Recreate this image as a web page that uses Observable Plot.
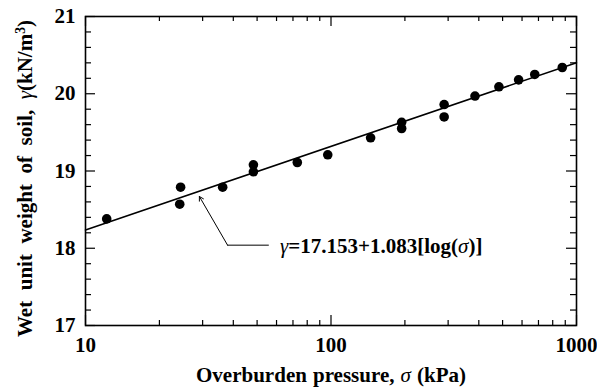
<!DOCTYPE html>
<html><head><meta charset="utf-8">
<script src="https://cdn.jsdelivr.net/npm/d3@7"></script>
<script src="https://cdn.jsdelivr.net/npm/@observablehq/plot@0.6"></script>
<style>
html,body{margin:0;padding:0;background:#fff;}
svg text{font-family:"Liberation Serif","Times New Roman",serif;font-weight:bold;fill:#000;}
</style>
</head><body><div id="chart"></div>
<script>
// data
const pressure = [12.2, 24.2, 24.4, 36.2, 48.3, 48.3, 72.9, 97, 145, 194, 194, 289, 289, 386, 483, 581, 676, 875];
const gamma    = [18.38, 18.57, 18.79, 18.79, 19.08, 18.99, 19.11, 19.21, 19.43, 19.63, 19.55, 19.86, 19.70, 19.97, 20.09, 20.18, 20.25, 20.34];
const fitX = [10, 1000];
const fitY = [18.236, 20.402];
const xMajor = [10, 100, 1000];
const xMinor = [20,30,40,50,60,70,80,90,200,300,400,500,600,700,800,900];
const yMajor = [17, 18, 19, 20, 21];
const yMinor = [17.2,17.4,17.6,17.8,18.2,18.4,18.6,18.8,19.2,19.4,19.6,19.8,20.2,20.4,20.6,20.8];
const arrowTip = {x: 29.1, y: 18.67};
const arrowElbow = {x: 37.9, y: 18.04};
const leaderEnd = {x: 55.6, y: 18.04};
const eqLabel = {x: 62, y: 18.03, text: "γ=17.153+1.083[log(σ)]"};
const xLabel = "Overburden pressure, σ (kPa)";
const yLabel = "Wet unit weight of soil, γ(kN/m³)";

const W = 597, H = 387, mL = 85, mR = 21, mT = 16, mB = 62;
const iH = H - mT - mB, iW = W - mL - mR;
const pts = pressure.map((p, i) => ({p, g: gamma[i]}));
const fit = fitX.map((x, i) => ({x, y: fitY[i]}));

const chart = Plot.plot({
  width: W, height: H,
  marginLeft: mL, marginRight: mR, marginTop: mT, marginBottom: mB,
  style: {fontFamily: "Liberation Serif", fontWeight: "bold", fontSize: "20px", background: "#fff"},
  x: {type: "log", domain: [10, 1000]},
  y: {domain: [17, 21]},
  marks: [
    Plot.frame({stroke: "#000", strokeWidth: 1.6}),
    Plot.tickX(xMajor, {x: d => d, insetTop: iH - 10, stroke: "#000", strokeWidth: 1.2}),
    Plot.tickX(xMajor, {x: d => d, insetBottom: iH - 10, stroke: "#000", strokeWidth: 1.2}),
    Plot.tickX(xMinor, {x: d => d, insetTop: iH - 5, stroke: "#000", strokeWidth: 1.2}),
    Plot.tickX(xMinor, {x: d => d, insetBottom: iH - 5, stroke: "#000", strokeWidth: 1.2}),
    Plot.tickY(yMajor, {y: d => d, insetRight: iW - 10, stroke: "#000", strokeWidth: 1.2}),
    Plot.tickY(yMajor, {y: d => d, insetLeft: iW - 10, stroke: "#000", strokeWidth: 1.2}),
    Plot.tickY(yMinor, {y: d => d, insetRight: iW - 6, stroke: "#000", strokeWidth: 1.2}),
    Plot.tickY(yMinor, {y: d => d, insetLeft: iW - 6, stroke: "#000", strokeWidth: 1.2}),
    Plot.axisX({ticks: xMajor, tickSize: 0, tickPadding: 12, tickFormat: d => String(d), fontSize: 21, label: null}),
    Plot.axisY({ticks: yMajor, tickSize: 0, tickPadding: 10, tickFormat: d => String(d), fontSize: 21, label: null}),
    Plot.line(fit, {x: "x", y: "y", stroke: "#000", strokeWidth: 1.5}),
    Plot.dot(pts, {x: "p", y: "g", r: 4.8, fill: "#000", stroke: "none"}),
    Plot.arrow([{}], {x1: () => arrowElbow.x, y1: () => arrowElbow.y, x2: () => arrowTip.x, y2: () => arrowTip.y, stroke: "#000", strokeWidth: 1, headLength: 7}),
    Plot.line([arrowElbow, leaderEnd], {x: "x", y: "y", stroke: "#000", strokeWidth: 1}),
    Plot.text([eqLabel], {x: "x", y: "y", text: "text", textAnchor: "start", lineAnchor: "middle", fontSize: 21, fontWeight: "bold"}),
    Plot.text([xLabel], {frameAnchor: "bottom", dy: 50, text: d => d, textAnchor: "middle", lineAnchor: "middle", fontSize: 21, fontWeight: "bold"}),
    Plot.text([yLabel], {frameAnchor: "left", dx: -60, dy: 7.5, rotate: -90, textAnchor: "middle", lineAnchor: "middle", text: d => d, fontSize: 21, fontWeight: "bold"})
  ]
});
document.getElementById("chart").append(chart);

// rich text: italic Greek letters and superscript 3, plus word spacing
function enrich(node, target) {
  const txt = node.textContent;
  node.textContent = "";
  let sup = false;
  for (const ch of txt) {
    const t = document.createElementNS("http://www.w3.org/2000/svg", "tspan");
    if (ch === "γ" || ch === "σ") { t.setAttribute("font-style", "italic"); t.setAttribute("font-weight", "normal"); }
    if (ch === "³") { t.textContent = "3"; t.setAttribute("font-size", "0.65em"); t.setAttribute("dy", "-0.55em"); sup = true; node.appendChild(t); continue; }
    if (sup) { t.setAttribute("dy", "0.36em"); sup = false; }
    t.textContent = ch;
    node.appendChild(t);
  }
  node.setAttribute("xml:space", "preserve");
  if (target) {
    const len = node.getComputedTextLength();
    const gaps = (txt.match(/ /g) || []).length;
    if (gaps) node.setAttribute("word-spacing", Math.max(0, (target - len) / gaps));
  }
}
d3.select(chart).selectAll("text").each(function() {
  const s = this.textContent;
  if (s === xLabel) enrich(this, 270);
  else if (s === yLabel) enrich(this, 317);
  else if (s === eqLabel.text) enrich(this, 0);
});
</script>
</body></html>
